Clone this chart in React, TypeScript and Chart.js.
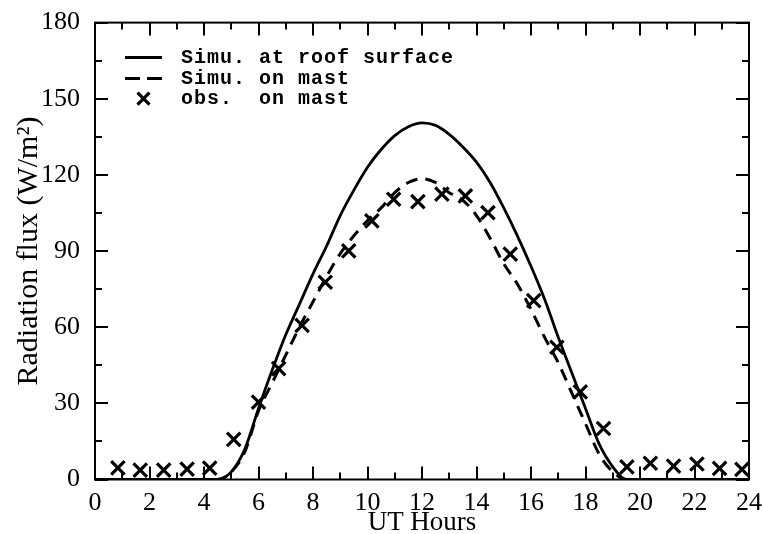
import React, { useEffect, useRef } from "react";
import { Chart, registerables } from "chart.js";

Chart.register(...registerables);

// Observations on the mast (UT hour, W/m²)
const obsHours = [
  0.84, 1.66, 2.52, 3.38, 4.21, 5.09, 6.0, 6.74, 7.6, 8.45, 9.31, 10.16, 10.96, 11.85,
  12.73, 13.59, 14.42, 15.24, 16.1, 16.95, 17.81, 18.66, 19.52, 20.38, 21.23, 22.09, 22.92, 23.74,
];
const obsMast = [
  4.6, 3.7, 3.7, 4.1, 4.5, 15.8, 30.5, 43.7, 60.7, 77.7, 90.1, 101.9, 110.4, 109.5,
  112.4, 111.7, 105.1, 88.8, 70.5, 52.1, 34.5, 20.1, 5.0, 6.4, 5.3, 6.1, 4.4, 4.0,
];

// Simulated fluxes (UT hour, W/m²)
const simHours = [
  0, 1, 2, 3, 4, 4.5, 5, 5.5, 6, 6.5, 7, 7.5, 8, 8.5, 9, 9.5, 10, 10.5, 11, 11.5, 12,
  12.5, 13, 13.5, 14, 14.5, 15, 15.5, 16, 16.5, 17, 17.5, 18, 18.5, 19, 19.5, 20, 21, 22, 23, 24,
];
const simRoof = [
  0, 0, 0, 0, 0, 0, 3, 12, 28, 43, 57, 69, 81, 92, 104, 114, 123, 130, 135.5, 139, 140.5,
  139.5, 136, 131, 125, 117, 107, 96, 84, 71, 56, 42, 28, 14, 5, 0, 0, 0, 0, 0, 0,
];
const simMast = [
  0, 0, 0, 0, 0, 0, 3, 11, 27, 38, 49, 60, 70, 80, 89, 96, 102, 107, 113, 117, 118.5,
  117, 113, 110, 104, 95, 85, 77, 67, 56, 46, 34, 22, 10, 3, 0, 0, 0, 0, 0, 0,
];

const xTicks = { min: 0, max: 24, step: 2 };
const yTicks = { min: 0, max: 180, step: 30 };

const seriesLabels = ["Simu. at roof surface", "Simu. on mast", "obs.  on mast"];

const SERIF = "'Liberation Serif', 'Times New Roman', serif";
const MONO = "'Liberation Mono', 'Courier New', monospace";

// Box frame with inward major/minor ticks on all four sides, plus the legend
const frameLegend = {
  id: "frameLegend",
  afterDatasetsDraw(chart: any) {
    const { ctx, chartArea: a, scales } = chart;
    const sx = scales.x;
    const sy = scales.y;
    ctx.save();
    ctx.strokeStyle = "#000";
    ctx.lineWidth = 2;
    ctx.strokeRect(a.left, a.top, a.right - a.left, a.bottom - a.top);

    const major = 13;
    const minor = 7;
    ctx.lineWidth = 2;
    ctx.beginPath();
    for (let v = xTicks.min; v <= xTicks.max; v += xTicks.step / 2) {
      const len = v % xTicks.step === 0 ? major : minor;
      const px = Math.round(sx.getPixelForValue(v));
      ctx.moveTo(px, a.bottom);
      ctx.lineTo(px, a.bottom - len);
      ctx.moveTo(px, a.top);
      ctx.lineTo(px, a.top + len);
    }
    for (let v = yTicks.min; v <= yTicks.max; v += yTicks.step / 2) {
      const len = v % yTicks.step === 0 ? major : minor;
      const py = Math.round(sy.getPixelForValue(v));
      ctx.moveTo(a.left, py);
      ctx.lineTo(a.left + len, py);
      ctx.moveTo(a.right, py);
      ctx.lineTo(a.right - len, py);
    }
    ctx.stroke();

    // legend
    const lx0 = a.left + 30;
    const lx1 = a.left + 67;
    const tx = a.left + 86;
    const rows = [a.top + 35, a.top + 56, a.top + 76];
    chart.data.datasets.forEach((ds: any, i: number) => {
      const yy = rows[i];
      ctx.strokeStyle = "#000";
      if (ds.showLine === false) {
        const cx = (lx0 + lx1) / 2;
        const h = 6;
        ctx.lineWidth = 3.2;
        ctx.setLineDash([]);
        ctx.beginPath();
        ctx.moveTo(cx - h, yy - h);
        ctx.lineTo(cx + h, yy + h);
        ctx.moveTo(cx + h, yy - h);
        ctx.lineTo(cx - h, yy + h);
        ctx.stroke();
      } else {
        ctx.lineWidth = 3;
        ctx.setLineDash(ds.borderDash && ds.borderDash.length ? [15, 7] : []);
        ctx.beginPath();
        ctx.moveTo(lx0, yy);
        ctx.lineTo(lx1, yy);
        ctx.stroke();
        ctx.setLineDash([]);
      }
      ctx.fillStyle = "#000";
      ctx.font = `bold 20px ${MONO}`;
      (ctx as any).letterSpacing = "1px";
      ctx.textBaseline = "middle";
      ctx.textAlign = "left";
      ctx.fillText(ds.label, tx, yy);
      (ctx as any).letterSpacing = "0px";
    });
    ctx.restore();
  },
};

export default function App() {
  const ref = useRef<HTMLCanvasElement | null>(null);

  useEffect(() => {
    if (!ref.current) return;
    const toPts = (xs: number[], ys: number[]) => xs.map((x, i) => ({ x, y: ys[i] }));
    const chart = new Chart(ref.current, {
      type: "line",
      data: {
        datasets: [
          {
            label: seriesLabels[0],
            data: toPts(simHours, simRoof),
            borderColor: "#000",
            borderWidth: 2.8,
            pointRadius: 0,
            cubicInterpolationMode: "monotone",
            fill: false,
          },
          {
            label: seriesLabels[1],
            data: toPts(simHours, simMast),
            borderColor: "#000",
            borderWidth: 3,
            borderDash: [12, 8],
            pointRadius: 0,
            cubicInterpolationMode: "monotone",
            fill: false,
          },
          {
            label: seriesLabels[2],
            data: toPts(obsHours, obsMast),
            showLine: false,
            pointStyle: "crossRot",
            pointRadius: 9.5,
            pointBorderWidth: 3.2,
            pointBorderColor: "#000",
            borderColor: "#000",
          },
        ],
      },
      options: {
        animation: false,
        responsive: true,
        maintainAspectRatio: false,
        layout: { padding: { left: 0, right: 13, top: 21, bottom: 0 } },
        plugins: { legend: { display: false }, tooltip: { enabled: false } },
        scales: {
          x: {
            type: "linear",
            min: xTicks.min,
            max: xTicks.max,
            ticks: {
              stepSize: xTicks.step,
              color: "#000",
              font: { family: SERIF, size: 26 },
              padding: 0,
              maxRotation: 0,
            },
            grid: { display: false },
            border: { display: false },
            title: {
              display: true,
              text: "UT Hours",
              color: "#000",
              font: { family: SERIF, size: 27 },
              padding: { top: 0, bottom: -5 },
            },
            afterFit: (s: any) => {
              s.height = 54.5;
            },
          },
          y: {
            min: yTicks.min,
            max: yTicks.max,
            ticks: {
              stepSize: yTicks.step,
              color: "#000",
              font: { family: SERIF, size: 26 },
              padding: 7,
            },
            grid: { display: false },
            border: { display: false },
            title: {
              display: true,
              text: "Radiation flux (W/m²)",
              color: "#000",
              font: { family: SERIF, size: 30 },
              padding: { top: 11, bottom: 0 },
            },
            afterFit: (s: any) => {
              s.width = 95;
            },
          },
        },
      },
      plugins: [frameLegend],
    });
    return () => chart.destroy();
  }, []);

  return (
    <div style={{ position: "fixed", left: 0, top: 0, width: 762, height: 534, background: "#fff" }}>
      <canvas ref={ref} />
    </div>
  );
}
